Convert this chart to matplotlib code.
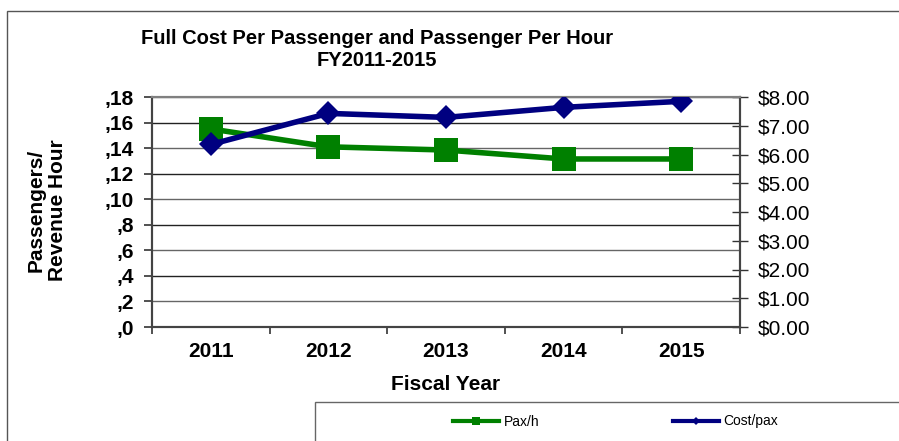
import matplotlib
matplotlib.use("Agg")
import matplotlib.pyplot as plt
from matplotlib.patches import Rectangle
from matplotlib.lines import Line2D
import numpy as np

plt.rcParams['font.family'] = ['Liberation Sans', 'DejaVu Sans']

years = ['2011', '2012', '2013', '2014', '2015']
pax_per_hour = [15.5, 14.1, 13.85, 13.15, 13.15]
cost_per_pax = [6.35, 7.43, 7.29, 7.64, 7.85]
left_ticks = [0, 2, 4, 6, 8, 10, 12, 14, 16, 18]
left_labels = [',0', ',2', ',4', ',6', ',8', ',10', ',12', ',14', ',16', ',18']
right_ticks = [0, 1, 2, 3, 4, 5, 6, 7, 8]
right_labels = ['$0.00', '$1.00', '$2.00', '$3.00', '$4.00', '$5.00', '$6.00', '$7.00', '$8.00']

W, H = 899, 441
fig = plt.figure(figsize=(W / 100, H / 100), dpi=100)

# outer chart frame (extends beyond the image on right/bottom)
fig.patches.append(Rectangle((7 / W, -0.1), 1.2, 1 - 11 / H + 0.1, transform=fig.transFigure,
                             fill=False, edgecolor='#555555', linewidth=1.0, zorder=0))

ax = fig.add_axes([152 / W, 1 - 327 / H, (740 - 152) / W, (327 - 97) / H])
ax2 = ax.twinx()

x = np.arange(len(years))

ax.set_xlim(-0.5, len(years) - 0.5)
ax.set_ylim(0, 18)
ax2.set_ylim(0, 8)

for v in left_ticks[1:]:
    ax.axhline(v, color='#222222' if v % 4 == 0 else '#666666', linewidth=1.0, zorder=1)

ax.plot(x, pax_per_hour, color='#008000', linewidth=4, marker='s', markersize=17,
        markeredgewidth=0, zorder=3, label='Pax/h')
ax2.plot(x, cost_per_pax, color='#000080', linewidth=4, marker='D', markersize=12,
         markeredgewidth=0, zorder=4, label='Cost/pax')

ax.set_yticks(left_ticks)
ax.set_yticklabels(left_labels, fontsize=15, fontweight='bold')
ax.tick_params(axis='y', direction='out', length=6, width=1.2, color='#333333', pad=7)

ax.set_xticks(x)
ax.set_xticklabels(years, fontsize=15, fontweight='bold')
ax.set_xticks(np.arange(-0.5, len(years)), minor=True)
ax.tick_params(axis='x', which='major', length=0, pad=11)
ax.tick_params(axis='x', which='minor', direction='out', length=5, width=1.2, color='#333333')

ax2.set_yticks(right_ticks)
ax2.set_yticklabels(right_labels, fontsize=15)
ax2.tick_params(axis='y', direction='inout', length=12, width=1.0, color='#333333', pad=7)

for a in (ax, ax2):
    a.spines['top'].set_color('#808080')
    a.spines['top'].set_linewidth(1.5)
    for s in ('left', 'right', 'bottom'):
        a.spines[s].set_color('#444444')
        a.spines[s].set_linewidth(1.5)

fig.text(377 / W, 1 - 38 / H, 'Full Cost Per Passenger and Passenger Per Hour',
         ha='center', va='center', fontsize=14.5, fontweight='bold')
fig.text(377 / W, 1 - 60 / H, 'FY2011-2015',
         ha='center', va='center', fontsize=14.5, fontweight='bold')

fig.text(47 / W, 1 - 210 / H, 'Passengers/\nRevenue Hour', rotation=90,
         ha='center', va='center', fontsize=15, fontweight='bold', linespacing=1.12)
fig.text(446 / W, 1 - 384 / H, 'Fiscal Year', ha='center', va='center',
         fontsize=15, fontweight='bold')

# legend box
fig.patches.append(Rectangle((315 / W, -0.1), 1.0, (441 - 402) / H + 0.1, transform=fig.transFigure,
                             fill=True, facecolor='white', edgecolor='#666666', linewidth=1.0, zorder=1))
h1 = Line2D([], [], color='#008000', linewidth=3, marker='s', markersize=6, markeredgewidth=0)
h2 = Line2D([], [], color='#000080', linewidth=3, marker='D', markersize=4.5, markeredgewidth=0)
fig.legend([h1, h2], ['Pax/h', 'Cost/pax'], loc='center left',
           bbox_to_anchor=(453 / W, 1 - 421.5 / H), ncol=2, frameon=False,
           fontsize=10, handlelength=3.3, handletextpad=0.36, columnspacing=9.6,
           borderaxespad=0, borderpad=0)

fig.savefig('out.png', dpi=100)
